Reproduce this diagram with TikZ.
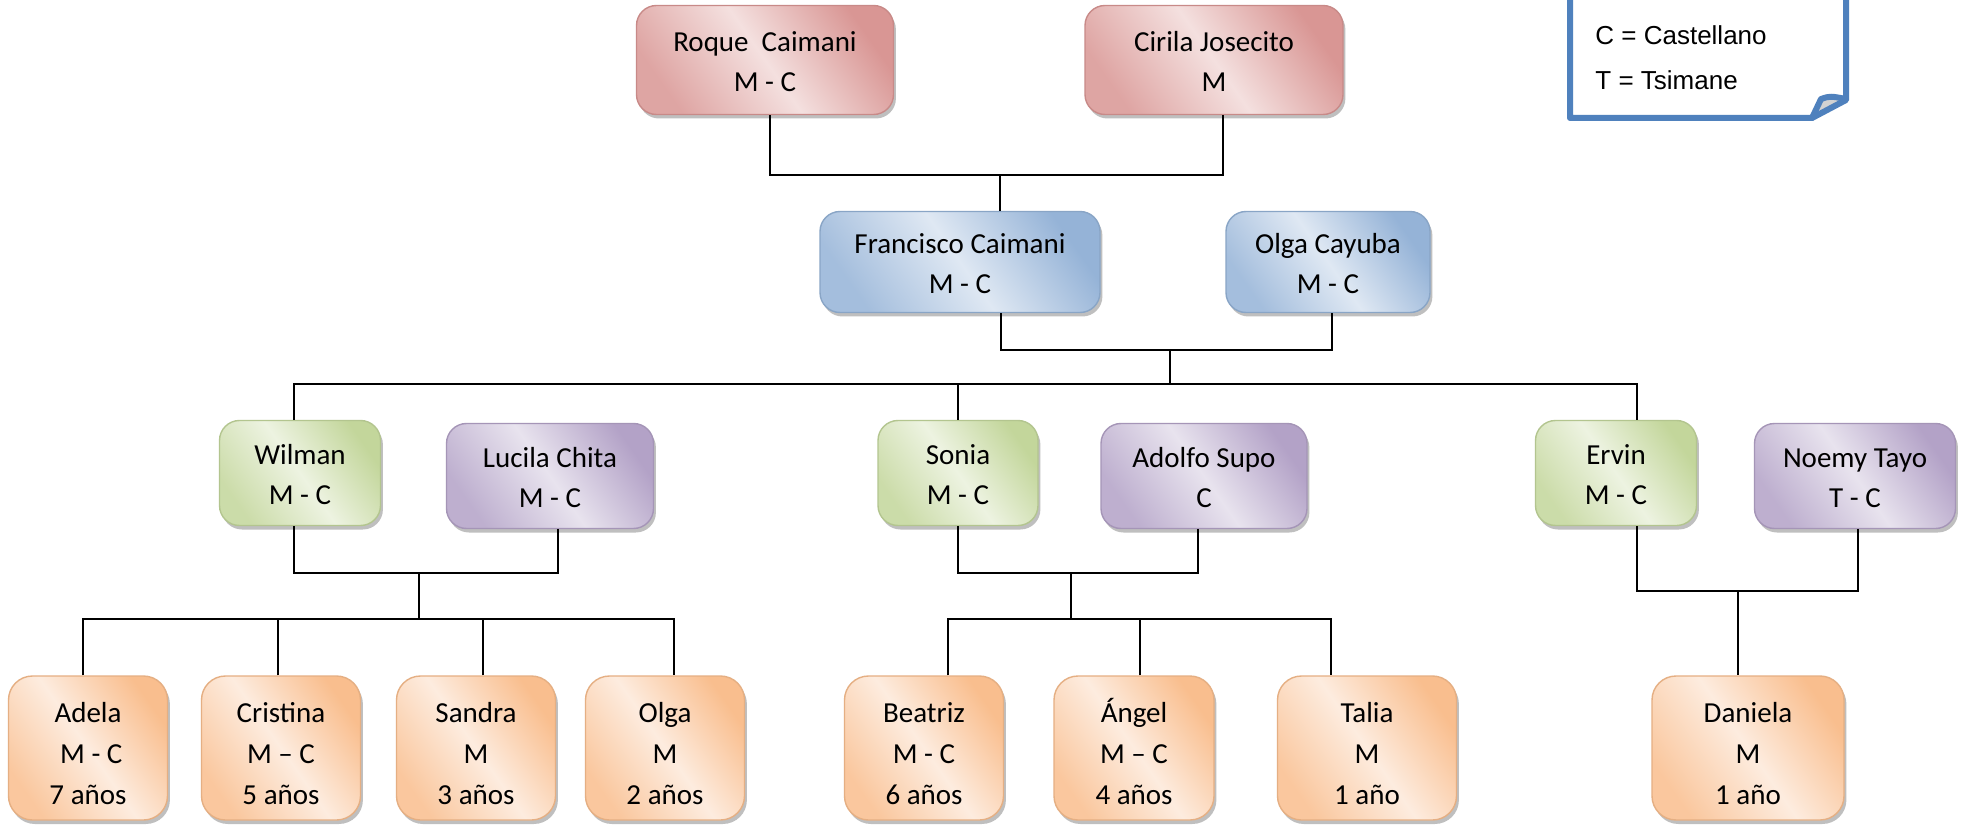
\documentclass[tikz,border=0pt]{standalone}
\usepackage{fontspec}
\setmainfont{Carlito}
\newfontfamily\legendfont{Liberation Sans}
\usetikzlibrary{calc,shadows}

\definecolor{redD}{HTML}{D99694}
\definecolor{redL}{HTML}{F4E0DF}
\definecolor{blueD}{HTML}{95B3D7}
\definecolor{blueL}{HTML}{DFE8F3}
\definecolor{greenD}{HTML}{C3D69B}
\definecolor{greenL}{HTML}{EDF3E1}
\definecolor{purpleD}{HTML}{B3A2C7}
\definecolor{purpleL}{HTML}{E8E3EE}
\definecolor{orangeD}{HTML}{F9BE8E}
\definecolor{orangeL}{HTML}{FDECDF}
\definecolor{legendblue}{HTML}{4F81BD}

% invisible struts that fix the height of a node's first line
\newcommand\toprow{\rule{0pt}{12pt}}
\newcommand\kidrow{\rule{0pt}{15.2pt}}

\tikzset{
  person/.style={rounded corners=10pt, align=center, inner sep=0pt,
    font=\fontsize{14.5}{20}\selectfont, line width=0.7pt,
    drop shadow={shadow xshift=1.2pt, shadow yshift=-2pt, fill=black!55, opacity=0.45}},
  tint/.style 2 args={person, draw=#1!92!black, top color=#1, bottom color=#1!80!#2,
    middle color=#2, shading angle=-55},
  redbox/.style={tint={redD}{redL}},
  bluebox/.style={tint={blueD}{blueL}},
  greenbox/.style={tint={greenD}{greenL}},
  purplebox/.style={tint={purpleD}{purpleL}},
  orangebox/.style={tint={orangeD}{orangeL}, rounded corners=12pt,
    font=\fontsize{14.5}{20.5}\selectfont},
  link/.style={draw=black, line width=1pt},
  legendtext/.style={font=\legendfont\fontsize{13}{15}\selectfont, inner sep=0pt, anchor=base west}
}

\begin{document}
\begin{tikzpicture}[x=0.5pt,y=-0.5pt]
\useasboundingbox (0,0) rectangle (1969,828);
\fill[white] (0,0) rectangle (1969,828);

% grandparents
\node[redbox, minimum width=128.5pt, minimum height=54.5pt] (roque) at (765,60) {\toprow Roque~~Caimani\\M - C};
\node[redbox, minimum width=129pt, minimum height=54.5pt] (cirila) at (1214,60) {\toprow Cirila Josecito\\M};

% parents
\node[bluebox, minimum width=140pt, minimum height=50.5pt] (fran) at (960,262) {\toprow Francisco Caimani\\M - C};
\node[bluebox, minimum width=102pt, minimum height=50.5pt] (olgac) at (1328,262) {\toprow Olga Cayuba\\M - C};

% children and their partners
\node[greenbox, minimum width=80.5pt, minimum height=52.5pt] (wilman) at (300,473) {\toprow Wilman\\M - C};
\node[purplebox, minimum width=103.5pt, minimum height=52.5pt] (lucila) at (550,476) {\toprow Lucila Chita\\M - C};
\node[greenbox, minimum width=80pt, minimum height=52.5pt] (sonia) at (958,473) {\toprow Sonia\\M - C};
\node[purplebox, minimum width=103pt, minimum height=52.5pt] (adolfo) at (1204,476) {\toprow Adolfo Supo\\C};
\node[greenbox, minimum width=80.5pt, minimum height=52.5pt] (ervin) at (1616,473) {\toprow Ervin\\M - C};
\node[purplebox, minimum width=100.5pt, minimum height=52.5pt] (noemy) at (1855,476) {\toprow Noemy Tayo\\T - C};

% grandchildren
\node[orangebox, minimum width=79.5pt, minimum height=72pt] (adela) at (88,748) {\kidrow Adela\\\ M - C\\7 años};
\node[orangebox, minimum width=79.5pt, minimum height=72pt] (cristina) at (281,748) {\kidrow Cristina\\M -- C\\5 años};
\node[orangebox, minimum width=79.5pt, minimum height=72pt] (sandra) at (476,748) {\kidrow Sandra\\M\\3 años};
\node[orangebox, minimum width=79.5pt, minimum height=72pt] (olga) at (665,748) {\kidrow Olga\\M\\2 años};
\node[orangebox, minimum width=79.5pt, minimum height=72pt] (beatriz) at (924,748) {\kidrow Beatriz\\M - C\\6 años};
\node[orangebox, minimum width=80pt, minimum height=72pt] (angel) at (1134,748) {\kidrow\smash{Á}ngel\\M -- C\\4 años};
\node[orangebox, minimum width=89.5pt, minimum height=72pt] (talia) at (1367,748) {\kidrow Talia\\M\\1 año};
\node[orangebox, minimum width=96pt, minimum height=72pt] (daniela) at (1748,748) {\kidrow Daniela\\M\\1 año};

% grandparents -> Francisco
\coordinate (j1) at (1000,175);
\draw[link] ($(roque.south)+(5,0)$) |- (j1) -| ($(cirila.south)+(9,0)$);
\draw[link] (j1) -- ($(fran.north)+(40,0)$);

% parents -> children
\coordinate (j2) at (1170,350);
\draw[link] ($(fran.south)+(41,0)$) |- (j2) -| ($(olgac.south)+(4,0)$);
\coordinate (b2) at (1170,384);
\draw[link] (j2) -- (b2);
\coordinate (wN) at ($(wilman.north)+(-6,0)$);
\coordinate (sN) at (sonia.north);
\coordinate (eN) at ($(ervin.north)+(21,0)$);
\draw[link] (wN) -- (wN |- b2) -- (eN |- b2) -- (eN);
\draw[link] (sN) -- (sN |- b2);

% Wilman and Lucila -> their children
\coordinate (j3) at (419,573);
\draw[link] ($(wilman.south)+(-6,0)$) |- (j3) -| ($(lucila.south)+(8,0)$);
\coordinate (b3) at (419,619);
\draw[link] (j3) -- (b3);
\coordinate (aN) at ($(adela.north)+(-5,0)$);
\coordinate (cN) at ($(cristina.north)+(-3,0)$);
\coordinate (saN) at ($(sandra.north)+(7,0)$);
\coordinate (oN) at ($(olga.north)+(9,0)$);
\draw[link] (aN) -- (aN |- b3) -- (oN |- b3) -- (oN);
\draw[link] (cN) -- (cN |- b3);
\draw[link] (saN) -- (saN |- b3);

% Sonia and Adolfo -> their children
\coordinate (j4) at (1071,573);
\draw[link] (sonia.south) |- (j4) -| ($(adolfo.south)+(-6,0)$);
\coordinate (b4) at (1071,619);
\draw[link] (j4) -- (b4);
\coordinate (bN) at ($(beatriz.north)+(24,0)$);
\coordinate (anN) at ($(angel.north)+(6,0)$);
\coordinate (tN) at ($(talia.north)+(-36,0)$);
\draw[link] (bN) -- (bN |- b4) -- (tN |- b4) -- (tN);
\draw[link] (anN) -- (anN |- b4);

% Ervin and Noemy -> Daniela
\coordinate (j5) at (1738,591);
\draw[link] ($(ervin.south)+(21,0)$) |- (j5) -| ($(noemy.south)+(3,0)$);
\draw[link] (j5) -- ($(daniela.north)+(-10,0)$);

% legend note with a curled corner
\fill[white] (1570,-40) -- (1570,118) -- (1812,118) -- (1846,100) -- (1846,-40) -- cycle;
\fill[gray!35] (1813,116) -- (1822,99) -- (1845,100) -- cycle;
\draw[legendblue, line width=3pt, line join=round]
  (1570,-40) -- (1570,118) -- (1812,118) -- (1846,100) -- (1846,-40);
\draw[legendblue, line width=3pt, line join=round, line cap=round]
  (1812,118) -- (1821,99) .. controls (1830,96) .. (1846,99);
\node[legendtext] (lc) at (1595,45) {C = Castellano};
\node[legendtext] (lt) at (1595,90) {T = Tsimane};
\end{tikzpicture}
\end{document}
